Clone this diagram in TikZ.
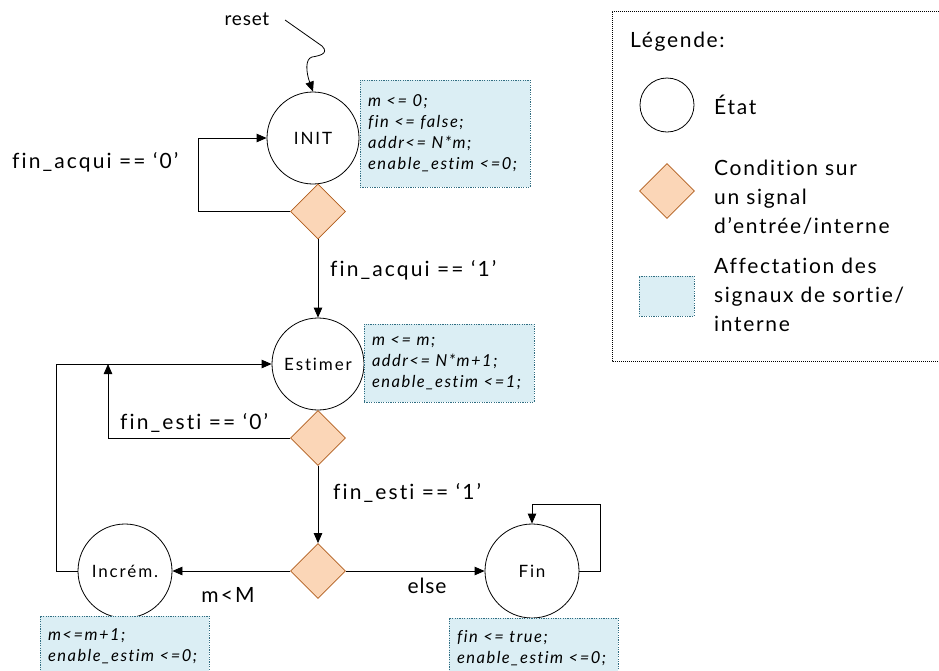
\documentclass[tikz,border=0pt]{standalone}
\usepackage{fontspec}
\setmainfont{Lato}[Ligatures=NoCommon]
\usetikzlibrary{shapes.geometric,arrows.meta}
\definecolor{dfill}{RGB}{251,214,183}
\definecolor{ddraw}{RGB}{176,92,28}
\definecolor{bfill}{RGB}{219,238,244}
\definecolor{bdraw}{RGB}{49,110,130}
\begin{document}
\begin{tikzpicture}[x=1pt,y=-1pt,
  state/.style={circle, draw, line width=0.8pt, minimum size=92pt, inner sep=0pt,
    font=\fontsize{17}{17}\selectfont\addfontfeature{LetterSpace=11}},
  cond/.style={diamond, draw=ddraw, fill=dfill, line width=0.8pt, minimum width=55pt,
    minimum height=55pt, inner sep=0pt},
  act/.style={rectangle, draw=bdraw, fill=bfill, line width=0.8pt, dash pattern=on 1.2pt off 1.2pt,
    inner sep=0pt, align=left, font=\fontsize{16.5}{21}\itshape\addfontfeature{LetterSpace=9}},
  lab/.style={font=\fontsize{21}{21}\selectfont\addfontfeature{LetterSpace=10}, inner sep=0pt},
  leg/.style={font=\fontsize{21}{29}\selectfont\addfontfeature{LetterSpace=8}, inner sep=0pt, align=left, anchor=west},
  arr/.style={-{Triangle[length=10pt,width=8.5pt]}, line width=0.8pt}
]
\useasboundingbox (0,0) rectangle (939,670);

% states
\node[state] (INIT) at (313,138) {INIT};
\node[state] (Est) at (318,364) {Estimer};
\node[state, minimum size=94pt] (Inc) at (125,571) {Incrém.};
\node[state, minimum size=94pt] (Fin) at (532,571) {Fin};

% conditions
\node[cond] (d1) at (318,211.5) {};
\node[cond] (d2) at (318,438) {};
\node[cond] (d3) at (318,571) {};

% action boxes
\node[act, minimum width=170pt, minimum height=107pt, text width=154pt] (b1) at (445,133.5)
  {m <= 0;\\fin <= false;\\addr<= N*m;\\enable\_estim <=0;};
\node[act, minimum width=170pt, minimum height=78pt, text width=154pt] (b2) at (449,363)
  {m <= m;\\addr<= N*m+1;\\enable\_estim <=1;};
\node[act, minimum width=169pt, minimum height=60pt, text width=153pt] (b3) at (124.5,646)
  {m<=m+1;\\enable\_estim <=0;};
\node[act, minimum width=169pt, minimum height=60pt, text width=153pt] (b4) at (533.5,648)
  {fin <= true;\\enable\_estim <=0;};

% labels
\node[lab, font=\fontsize{19}{19}\selectfont\addfontfeature{LetterSpace=4}] (reset) at (247,19) {reset};
\node[lab, anchor=west] (l1) at (12,162) {fin\_acqui == ‘0’};
\node[lab, anchor=west] (l2) at (330,270) {fin\_acqui == ‘1’};
\node[lab, anchor=west] (l3) at (120,423) {fin\_esti == ‘0’};
\node[lab, anchor=west] (l4) at (333,493) {fin\_esti == ‘1’};
\node[lab] (l5) at (228,595) {m<M};
\node[lab, font=\fontsize{21}{21}\selectfont\addfontfeature{LetterSpace=4}] (l6) at (427,586) {else};

% connectors
\coordinate (rs) at (285,20);
\draw[arr] (rs) -- (322,46) .. controls (330,54) and (318,56) .. (312,57)
  .. controls (305,59) and (306,72) .. (INIT.north);
\draw[arr] (d1.west) -- ++(-92,0) |- (INIT.west);
\draw[arr] (d1.south) -- (Est.north);
\coordinate (j) at (108,364);
\draw[arr] (d2.west) -| (j);
\draw[arr] (Inc.west) -- ++(-21,0) |- (Est.west);
\draw[arr] (d2.south) -- (d3.north);
\draw[arr] (d3.west) -- (Inc.east);
\draw[arr] (d3.east) -- (Fin.west);
\draw[arr] (Fin.east) -- ++(21,0) -- ++(0,-67) -| (Fin.north);

% legend
\draw[line width=0.8pt, dash pattern=on 1pt off 1pt] (939,11) -- (612,11) -- (612,361) -- (939,361);
\node[leg] (lt) at (630,42) {Légende:};
\node[circle, draw, line width=0.8pt, minimum size=54pt, inner sep=0pt] (lc) at (667,105) {};
\node[leg] (lct) at (714,105) {État};
\node[cond] (ld) at (667,191) {};
\node[leg] (ldt) at (714,197) {Condition sur\\un signal\\d’entrée/interne};
\node[act, minimum width=55pt, minimum height=40pt] (lb) at (666.5,296) {};
\node[leg] (lbt) at (714,295) {Affectation des\\signaux de sortie/\\interne};
\end{tikzpicture}
\end{document}
